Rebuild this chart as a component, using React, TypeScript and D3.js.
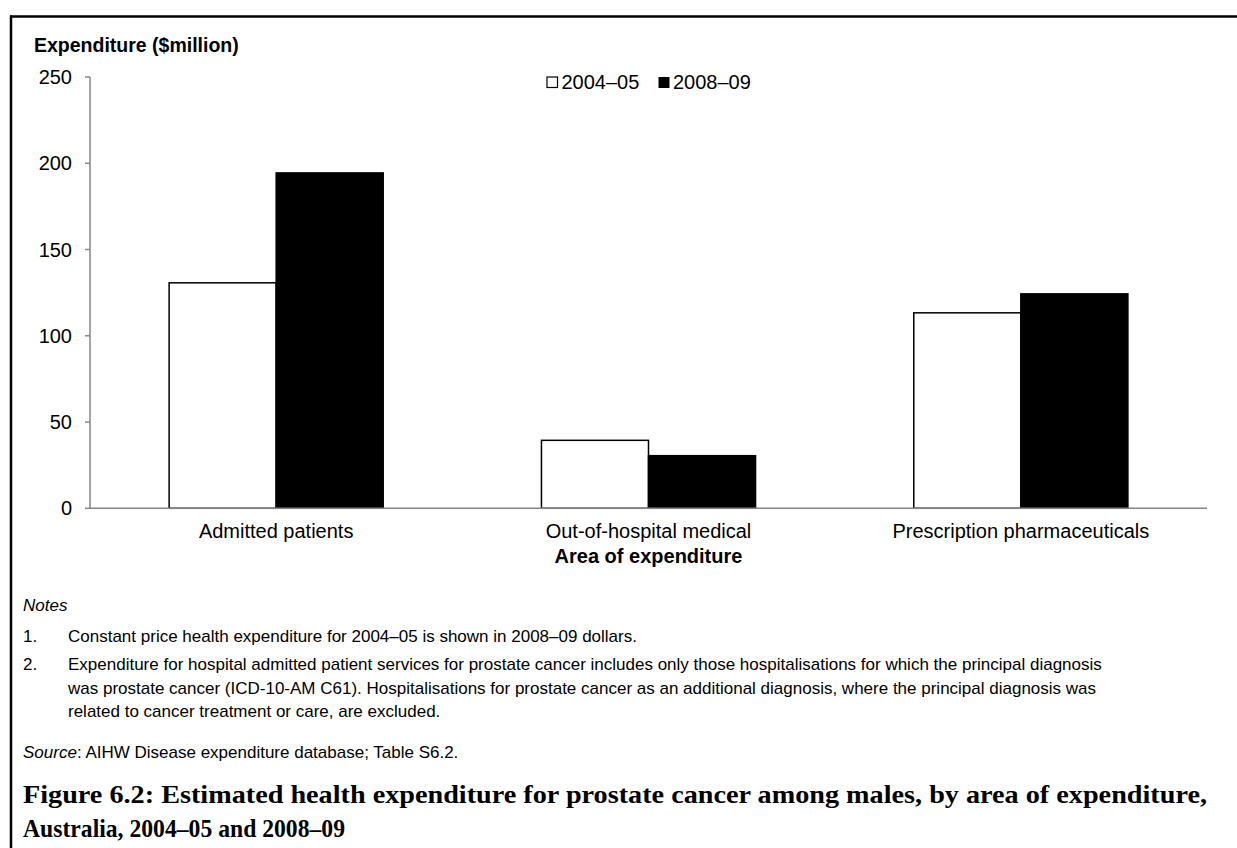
import React from "react";
import * as d3 from "d3";

const categories = ["Admitted patients", "Out-of-hospital medical", "Prescription pharmaceuticals"];
const seriesNames = ["2004–05", "2008–09"];
const values2004 = [130.7, 39.4, 113.3];
const values2008 = [194.4, 30.5, 124.3];
const yTicks = [0, 50, 100, 150, 200, 250];
const yAxisTitle = "Expenditure ($million)";
const xAxisTitle = "Area of expenditure";
const notesTitle = "Notes";
const note1 = "Constant price health expenditure for 2004–05 is shown in 2008–09 dollars.";
const note2Lines = [
  "Expenditure for hospital admitted patient services for prostate cancer includes only those hospitalisations for which the principal diagnosis",
  "was prostate cancer (ICD-10-AM C61). Hospitalisations for prostate cancer as an additional diagnosis, where the principal diagnosis was",
  "related to cancer treatment or care, are excluded.",
];
const sourceRest = ": AIHW Disease expenditure database; Table S6.2.";
const captionLines = [
  "Figure 6.2: Estimated health expenditure for prostate cancer among males, by area of expenditure,",
  "Australia, 2004–05 and 2008–09",
];

const W = 1237;
const H = 848;
const SANS = "'Liberation Sans', Arial, Helvetica, sans-serif";
const SERIF = "'Liberation Serif', 'Times New Roman', serif";
const AXIS = "#868686";

export default function App() {
  const left = 90;
  const right = 1207;
  const top = 77;
  const bottom = 508.3;

  const x0 = d3.scaleBand<string>().domain(categories).range([left, right]).paddingInner(0.425).paddingOuter(0.2125);
  const x1 = d3.scaleBand<string>().domain(seriesNames).range([0, x0.bandwidth()]).padding(0);
  const y = d3.scaleLinear().domain([0, 250]).range([bottom, top]);

  const series = [
    { name: seriesNames[0], values: values2004, fill: "#ffffff" },
    { name: seriesNames[1], values: values2008, fill: "#000000" },
  ];

  return (
    <svg width={W} height={H} style={{ position: "absolute", left: 0, top: 0, background: "#fff" }} xmlns="http://www.w3.org/2000/svg">
      <rect x={0} y={0} width={W} height={H} fill="#fff" />
      {/* frame */}
      <line x1={10} x2={W} y1={16.5} y2={16.5} stroke="#000" strokeWidth={2.5} />
      <line x1={11} x2={11} y1={15.5} y2={H} stroke="#000" strokeWidth={2.5} />

      {/* y axis title */}
      <text x={34} y={52} fontFamily={SANS} fontWeight="bold" fontSize={19.5} fill="#000">{yAxisTitle}</text>

      {/* bars */}
      {series.map((s) =>
        categories.map((c, i) => {
          const bx = (x0(c) as number) + (x1(s.name) as number);
          const by = y(s.values[i]);
          return (
            <rect key={s.name + c} x={bx} y={by} width={x1.bandwidth()} height={bottom - by}
              fill={s.fill} stroke="#000" strokeWidth={1.5} />
          );
        })
      )}

      {/* axes */}
      <line x1={left} x2={left} y1={top} y2={bottom} stroke={AXIS} strokeWidth={1.5} />
      <line x1={left} x2={right} y1={bottom} y2={bottom} stroke={AXIS} strokeWidth={1.5} />
      {yTicks.map((t) => (
        <g key={t}>
          <line x1={left - 5} x2={left} y1={y(t)} y2={y(t)} stroke={AXIS} strokeWidth={1.5} />
          <text x={72} y={y(t)} dy="0.35em" textAnchor="end" fontFamily={SANS} fontSize={20} fill="#000">{t}</text>
        </g>
      ))}
      {categories.map((c) => (
        <text key={c} x={(x0(c) as number) + x0.bandwidth() / 2} y={538} textAnchor="middle" fontFamily={SANS} fontSize={20} fill="#000">{c}</text>
      ))}
      <text x={(left + right) / 2} y={563} textAnchor="middle" fontFamily={SANS} fontWeight="bold" fontSize={20} fill="#000">{xAxisTitle}</text>

      {/* legend */}
      <rect x={547} y={77} width={10.5} height={10.5} fill="#fff" stroke="#000" strokeWidth={1.2} />
      <text x={561.5} y={82} dy="0.35em" fontFamily={SANS} fontSize={20} fill="#000">{seriesNames[0]}</text>
      <rect x={658.5} y={77} width={11} height={11} fill="#000" />
      <text x={673} y={82} dy="0.35em" fontFamily={SANS} fontSize={20} fill="#000">{seriesNames[1]}</text>

      {/* notes */}
      <text x={23} y={611} fontFamily={SANS} fontStyle="italic" fontSize={17} fill="#000">{notesTitle}</text>
      <text x={23} y={642} fontFamily={SANS} fontSize={17} fill="#000">1.</text>
      <text x={68} y={642} fontFamily={SANS} fontSize={17} fill="#000">{note1}</text>
      <text x={23} y={670} fontFamily={SANS} fontSize={17} fill="#000">2.</text>
      {note2Lines.map((l, i) => (
        <text key={i} x={68} y={670 + i * 23.5} fontFamily={SANS} fontSize={17} fill="#000">{l}</text>
      ))}
      <text x={23} y={758} fontFamily={SANS} fontSize={17} fill="#000">
        <tspan fontStyle="italic">Source</tspan>{sourceRest}
      </text>

      {/* caption */}
      <text x={23} y={803} fontFamily={SERIF} fontWeight="bold" fontSize={25} fill="#000" textLength={1184} lengthAdjust="spacingAndGlyphs">{captionLines[0]}</text>
      <text x={23} y={837} fontFamily={SERIF} fontWeight="bold" fontSize={25} fill="#000" textLength={322} lengthAdjust="spacingAndGlyphs">{captionLines[1]}</text>
    </svg>
  );
}
